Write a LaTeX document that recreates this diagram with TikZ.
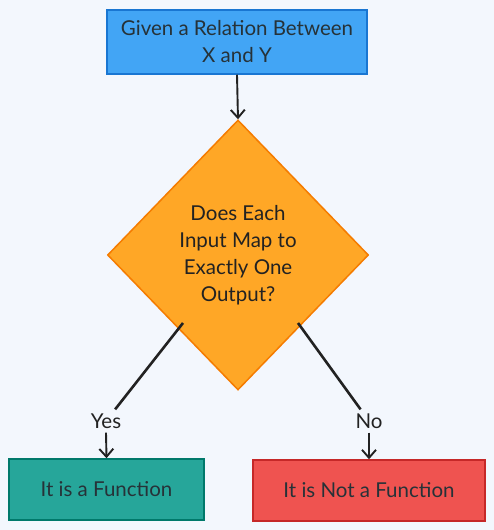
\documentclass[tikz,border=0pt]{standalone}
\usepackage{fontspec}
\setmainfont{Lato}
\usetikzlibrary{shapes.geometric,arrows.meta,calc}
\definecolor{bg}{HTML}{F3F7FD}
\definecolor{bluefill}{HTML}{42A5F5}
\definecolor{blueline}{HTML}{1976D2}
\definecolor{orfill}{HTML}{FFA726}
\definecolor{orline}{HTML}{F57C00}
\definecolor{grfill}{HTML}{26A69A}
\definecolor{grline}{HTML}{00796B}
\definecolor{rdfill}{HTML}{EF5350}
\definecolor{rdline}{HTML}{C62828}
\definecolor{txt}{HTML}{263238}
\definecolor{ink}{HTML}{222222}
\tikzset{
  boxstyle/.style={draw, line width=1.5pt, inner sep=0pt, align=center,
    text=txt, font=\fontsize{20.5}{27}\selectfont},
  decision/.style={diamond, draw=orline, fill=orfill, line width=1.5pt,
    inner sep=0pt, minimum width=261pt, minimum height=270pt, align=center,
    text=ink, font=\fontsize{20.5}{27}\selectfont},
  lbl/.style={fill=bg, inner xsep=2pt, inner ysep=4pt, text=ink, font=\fontsize{20.5}{22}\selectfont},
  conn/.style={draw=ink, line width=2.6pt},
  arr/.style={draw=ink, line width=1.9pt, -{Straight Barb[length=8pt,width=14pt,line width=1.9pt]}}
}
\begin{document}
\begin{tikzpicture}[x=1pt,y=1pt]
\fill[bg] (0,0) rectangle (494,530);
\useasboundingbox (0,0) rectangle (494,530);

\node[boxstyle, fill=bluefill, draw=blueline, minimum width=260pt, minimum height=64pt]
  (top) at (237,488) {Given a Relation Between\\X and Y};
\node[decision] (d) at (238,275) {Does Each\\Input Map to\\Exactly One\\Output?};
\node[boxstyle, fill=grfill, draw=grline, minimum width=195pt, minimum height=61pt]
  (yesbox) at (106.5,40.5) {It is a Function};
\node[boxstyle, fill=rdfill, draw=rdline, minimum width=232pt, minimum height=61pt]
  (nobox) at (369,39.5) {It is Not a Function};

\node[lbl] (yes) at (106,109) {Yes};
\node[lbl] (no) at (369,109) {No};

\coordinate (ys) at ($(d.center)+(-55,-68)$);
\coordinate (ns) at ($(d.center)+(60,-68)$);

\draw[arr] (top.south) -- (d.north);
\draw[conn] (ys) -- (yes);
\draw[arr] (yes.south) -- (yesbox.north);
\draw[conn] (ns) -- (no);
\draw[arr] (no.south) -- (nobox.north);
\end{tikzpicture}
\end{document}
